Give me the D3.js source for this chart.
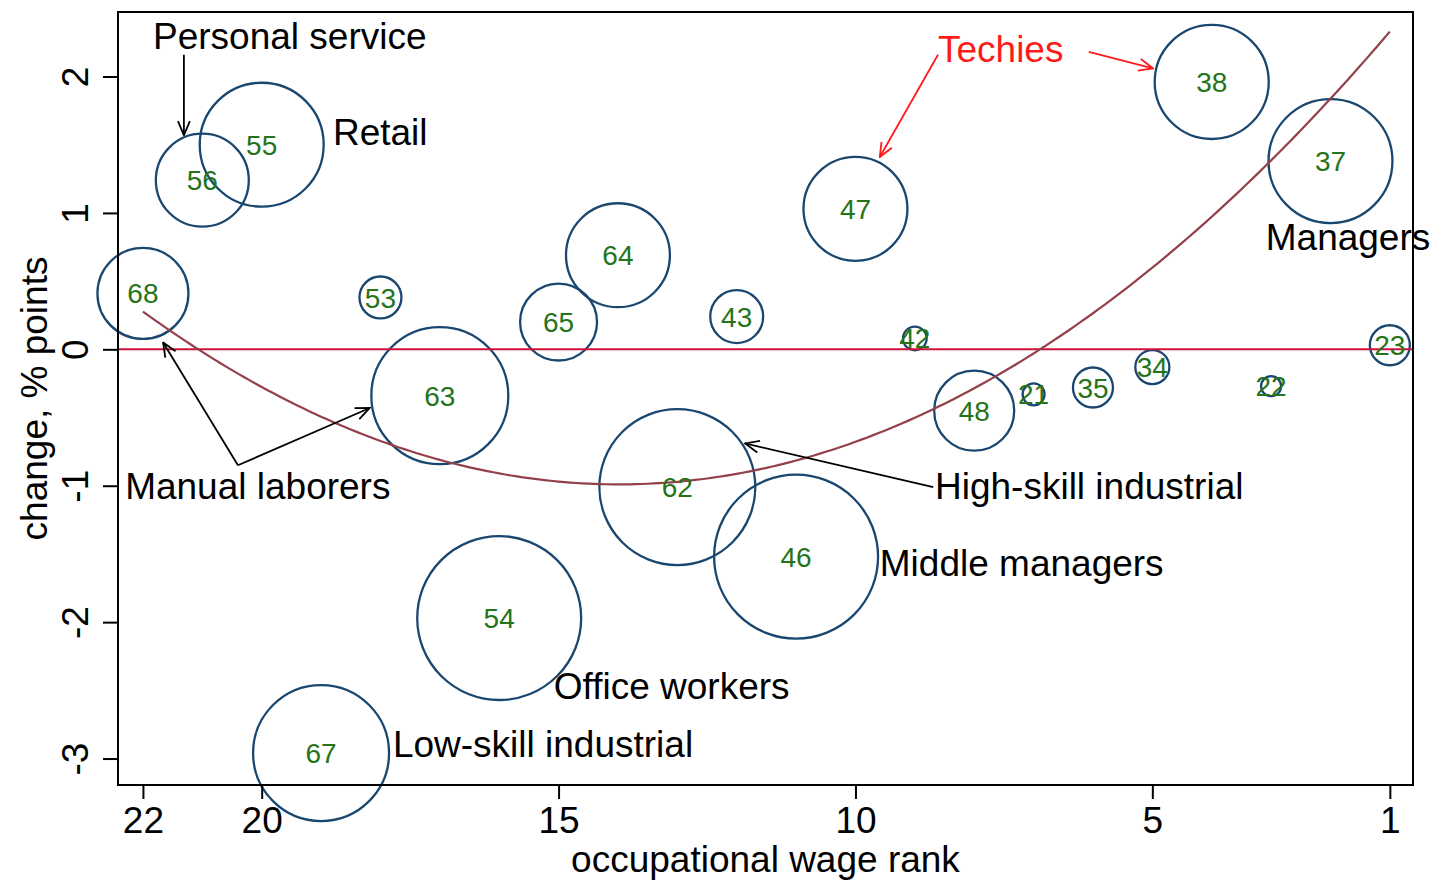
<!DOCTYPE html>
<html>
<head>
<meta charset="utf-8">
<script src="https://cdn.jsdelivr.net/npm/d3@7"></script>
<style>
body { margin: 0; background: #fff; }
text { font-family: "Liberation Sans", Arial, Helvetica, sans-serif; }
</style>
</head>
<body>
<div id="chart"></div>
<script>
// occupations ordered by wage rank (1 = highest paid)
var ranks = [1, 2, 3, 4, 5, 6, 7, 8, 9, 10, 11, 12, 13, 14, 15, 16, 17, 18, 19, 20, 21, 22];
var occCodes = ["23", "37", "22", "38", "34", "35", "21", "48", "42", "47", "46",
                "43", "62", "64", "65", "54", "63", "53", "67", "55", "56", "68"];
// change in employment share, % points
var changes = [0.03, 1.38, -0.27, 1.96, -0.13, -0.28, -0.33, -0.45, 0.08, 1.03, -1.52,
               0.24, -1.01, 0.69, 0.20, -1.97, -0.34, 0.38, -2.96, 1.50, 1.24, 0.41];
// employment share (bubble weight)
var sizes = [0.40, 3.84, 0.10, 3.25, 0.29, 0.40, 0.12, 1.60, 0.14, 2.70, 6.72,
             0.70, 6.08, 2.70, 1.48, 6.72, 4.69, 0.44, 4.62, 3.84, 2.16, 2.07];

var xTicks = [22, 20, 15, 10, 5, 1];
var yTicks = [-3, -2, -1, 0, 1, 2];

// quadratic fit: a * (rank - vertex)^2 + bottom
var fitA = 0.0197;
var fitVertex = 13.98;
var fitBottom = -0.99;

// group labels, anchored in data units
var notes = [
    {text: "Personal service", rank: 21.83, value: 2.20, color: "#000"},
    {text: "Retail", rank: 18.80, value: 1.50, color: "#000"},
    {text: "Techies", rank: 8.61, value: 2.11, color: "#ff1a1a"},
    {text: "Managers", rank: 3.09, value: 0.73, color: "#000"},
    {text: "Manual laborers", rank: 22.30, value: -1.10, color: "#000"},
    {text: "High-skill industrial", rank: 8.66, value: -1.10, color: "#000"},
    {text: "Middle managers", rank: 9.59, value: -1.66, color: "#000"},
    {text: "Office workers", rank: 15.08, value: -2.56, color: "#000"},
    {text: "Low-skill industrial", rank: 17.79, value: -2.99, color: "#000"}
];

// arrows: list of [rank, value] points, last one gets the head
var arrows = [
    {pts: [[21.31, 2.16], [21.31, 1.57]], color: "#000"},
    {pts: [[8.61, 2.16], [9.59, 1.41]], color: "#ff1a1a"},
    {pts: [[6.07, 2.18], [4.99, 2.06]], color: "#ff1a1a"},
    {pts: [[20.40, -0.85], [21.66, 0.05]], color: "#000"},
    {pts: [[20.40, -0.85], [18.18, -0.43]], color: "#000"},
    {pts: [[8.69, -1.01], [11.86, -0.69]], color: "#000"}
];

var width = 1433;
var height = 881;
var mLeft = 118, mRight = 1413, mTop = 12, mBottom = 785;

var svg = d3.select("#chart")
    .append("svg")
    .attr("width", width)
    .attr("height", height);

var x = d3.scaleLinear().domain([22.42, 0.61]).range([mLeft, mRight]);
var y = d3.scaleLinear().domain([-3.194, 2.473]).range([mBottom, mTop]);
var r = d3.scaleSqrt().domain([0, 10]).range([0, 100]);

var data = ranks.map(function(d, i) {
    return {rank: d, code: occCodes[i], change: changes[i], size: sizes[i]};
});

// arrow heads
var defs = svg.append("defs");
["#000", "#ff1a1a"].forEach(function(c, i) {
    defs.append("marker")
        .attr("id", "head" + i)
        .attr("markerUnits", "userSpaceOnUse")
        .attr("viewBox", "0 0 16 14")
        .attr("markerWidth", 16)
        .attr("markerHeight", 14)
        .attr("refX", 15)
        .attr("refY", 7)
        .attr("orient", "auto")
        .append("path")
        .attr("d", "M1,1 L15,7 L1,13")
        .attr("fill", "none")
        .attr("stroke", c)
        .attr("stroke-width", 1.8);
});

// bubbles
svg.selectAll("circle.bubble")
    .data(data)
    .enter()
    .append("circle")
    .attr("class", "bubble")
    .attr("cx", d => x(d.rank))
    .attr("cy", d => y(d.change))
    .attr("r", d => r(d.size))
    .attr("fill", "none")
    .attr("stroke", "#1a476f")
    .attr("stroke-width", 2.3);

// zero line
svg.append("line")
    .attr("x1", mLeft)
    .attr("x2", mRight)
    .attr("y1", y(0))
    .attr("y2", y(0))
    .attr("stroke", "#d0103a")
    .attr("stroke-width", 2);

// fitted quadratic
var fitPts = d3.range(1, 22.001, 0.1).map(function(k) {
    return [k, fitA * (k - fitVertex) * (k - fitVertex) + fitBottom];
});
svg.append("path")
    .datum(fitPts)
    .attr("d", d3.line().x(d => x(d[0])).y(d => y(d[1])))
    .attr("fill", "none")
    .attr("stroke", "#94404a")
    .attr("stroke-width", 2.2);

// occupation codes
svg.selectAll("text.code")
    .data(data)
    .enter()
    .append("text")
    .attr("class", "code")
    .attr("x", d => x(d.rank))
    .attr("y", d => y(d.change))
    .attr("dy", "0.36em")
    .style("text-anchor", "middle")
    .style("font-size", "28px")
    .style("fill", "#25741a")
    .text(d => d.code);

// arrows
svg.selectAll("polyline.arrow")
    .data(arrows)
    .enter()
    .append("polyline")
    .attr("class", "arrow")
    .attr("points", d => d.pts.map(p => [x(p[0]), y(p[1])]).join(" "))
    .attr("fill", "none")
    .attr("stroke", d => d.color)
    .attr("stroke-width", 1.8)
    .attr("marker-end", d => d.color === "#000" ? "url(#head0)" : "url(#head1)");

// annotations
svg.selectAll("text.note")
    .data(notes)
    .enter()
    .append("text")
    .attr("class", "note")
    .attr("x", d => x(d.rank))
    .attr("y", d => y(d.value))
    .style("font-size", "37px")
    .style("fill", d => d.color)
    .text(d => d.text);

// frame
svg.append("rect")
    .attr("x", mLeft)
    .attr("y", mTop)
    .attr("width", mRight - mLeft)
    .attr("height", mBottom - mTop)
    .attr("fill", "none")
    .attr("stroke", "#000")
    .attr("stroke-width", 2);

// x axis
var xAxis = svg.append("g")
    .attr("transform", `translate(0, ${mBottom})`)
    .call(d3.axisBottom(x).tickValues(xTicks).tickSize(14).tickPadding(6).tickFormat(d3.format("d")));
xAxis.select(".domain").remove();
xAxis.selectAll("line").attr("stroke", "#000").attr("stroke-width", 2);
xAxis.selectAll("text")
    .attr("y", 48)
    .attr("dy", 0)
    .style("font-size", "37px")
    .style("font-family", "'Liberation Sans', Arial, sans-serif")
    .style("fill", "#000");

// y axis, labels turned sideways
var yAxis = svg.append("g")
    .attr("transform", `translate(${mLeft}, 0)`)
    .call(d3.axisLeft(y).tickValues(yTicks).tickSize(15).tickFormat(d3.format("d")));
yAxis.select(".domain").remove();
yAxis.selectAll("line").attr("stroke", "#000").attr("stroke-width", 2);
yAxis.selectAll("text")
    .attr("x", null)
    .attr("dy", null)
    .attr("transform", "translate(-30, 0) rotate(-90)")
    .style("text-anchor", "middle")
    .style("font-size", "37px")
    .style("font-family", "'Liberation Sans', Arial, sans-serif")
    .style("fill", "#000")
    .text(d => d < 0 ? "-" + Math.abs(d) : d);

// axis titles
svg.append("text")
    .attr("x", (mLeft + mRight) / 2)
    .attr("y", 872)
    .style("text-anchor", "middle")
    .style("font-size", "37px")
    .text("occupational wage rank");

svg.append("text")
    .attr("transform", `translate(47, ${(mTop + mBottom) / 2}) rotate(-90)`)
    .style("text-anchor", "middle")
    .style("font-size", "37px")
    .text("change, % points");
</script>
</body>
</html>
